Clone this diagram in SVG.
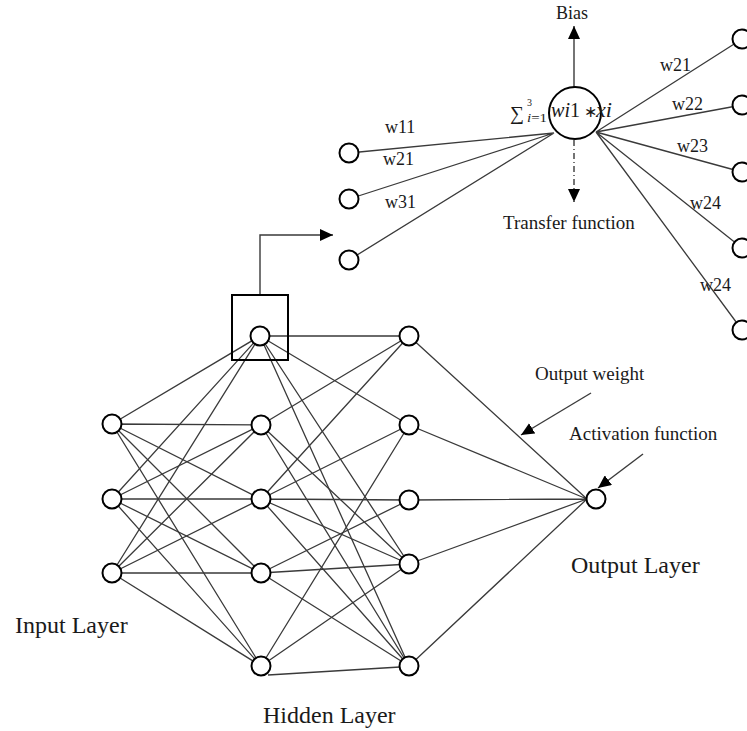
<svg xmlns="http://www.w3.org/2000/svg" width="747" height="731" viewBox="0 0 747 731">
<defs>
<style>
.ln{stroke:#3a3a3a;stroke-width:1.3;fill:none}
.nd{fill:#fff;stroke:#000;stroke-width:2}
.t{font-family:"Liberation Serif","Times New Roman",serif;fill:#1a1a1a}
.s{font-size:18px}
.m{font-size:24px}
.arr{stroke:#3a3a3a;stroke-width:1.4;fill:none}
</style>
<marker id="ah" viewBox="0 0 10 10" refX="10" refY="5" markerWidth="13" markerHeight="12" markerUnits="userSpaceOnUse" orient="auto" preserveAspectRatio="none">
<path d="M0,0 L10,5 L0,10 z" fill="#000"/>
</marker>
</defs>
<rect width="747" height="731" fill="#fff"/>
<g id="connectors">
<!-- input to hidden -->
<path class="ln" d="M112,424L260,336M112,424L261,425M112,424L261,499M112,424L261,573M112,424L261,666"/>
<path class="ln" d="M112,499L260,336M112,499L261,425M112,499L261,499M112,499L261,573M112,499L261,666"/>
<path class="ln" d="M112,573L260,336M112,573L261,425M112,573L261,499M112,573L261,573M112,573L261,666"/>
<!-- hidden to second hidden -->
<path class="ln" d="M260,336L409,336M260,336L409,425M260,336L409,564M260,336L409,666"/>
<path class="ln" d="M261,425L409,336M261,425L409,564M261,425L409,666"/>
<path class="ln" d="M261,499L409,336M261,499L409,425M261,499L409,500M261,499L409,564M261,499L409,666"/>
<path class="ln" d="M261,573L409,500M261,573L409,564M261,573L409,666"/>
<path class="ln" d="M261,666L409,425M261,666L409,564M268,675L400,667"/>
<!-- to output -->
<path class="ln" d="M409,336L587,499M409,425L587,499M409,500L587,499M409,564L587,499M409,666L587,499"/>
<!-- detail inputs -->
<path class="ln" d="M349,153L554,133M349,199L554,133M349,260L554,133"/>
<path class="ln" d="M596,132L742,39M596,132L742,105M596,132L742,172M596,132L742,248M596,132L742,330"/>
<!-- box arrow -->
<path class="arr" d="M260,295V235H333" marker-end="url(#ah)"/>
<!-- bias -->
<line class="arr" x1="574" y1="87" x2="574" y2="26" marker-end="url(#ah)"/>
<!-- transfer -->
<line class="arr" x1="574" y1="140" x2="574" y2="202" stroke-dasharray="6 3 1 3" marker-end="url(#ah)"/>
<!-- output weight -->
<line class="arr" x1="591" y1="393" x2="521" y2="435" marker-end="url(#ah)"/>
<!-- activation -->
<line class="arr" x1="643" y1="454" x2="598" y2="488" marker-end="url(#ah)"/>
</g>
<g id="box"><rect x="232" y="295" width="56" height="65" fill="none" stroke="#000" stroke-width="2"/></g>
<g id="input-layer">
<circle class="nd" cx="112" cy="424" r="9.5"/>
<circle class="nd" cx="112" cy="499" r="9.5"/>
<circle class="nd" cx="112" cy="573" r="9.5"/>
</g>
<g id="hidden-layer-1">
<circle class="nd" cx="260" cy="336" r="9.5"/>
<circle class="nd" cx="261" cy="425" r="9.5"/>
<circle class="nd" cx="261" cy="499" r="9.5"/>
<circle class="nd" cx="261" cy="573" r="9.5"/>
<circle class="nd" cx="261" cy="666" r="9.5"/>
</g>
<g id="hidden-layer-2">
<circle class="nd" cx="409" cy="336" r="9.5"/>
<circle class="nd" cx="409" cy="425" r="9.5"/>
<circle class="nd" cx="409" cy="500" r="9.5"/>
<circle class="nd" cx="409" cy="564" r="9.5"/>
<circle class="nd" cx="409" cy="666" r="9.5"/>
</g>
<g id="output-node"><circle class="nd" cx="596" cy="499" r="9.5"/></g>
<g id="detail-inputs">
<circle class="nd" cx="349" cy="153" r="9.5"/>
<circle class="nd" cx="349" cy="199" r="9.5"/>
<circle class="nd" cx="349" cy="260" r="9.5"/>
</g>
<g id="detail-outputs">
<circle class="nd" cx="742" cy="39" r="9.5"/>
<circle class="nd" cx="742" cy="105" r="9.5"/>
<circle class="nd" cx="742" cy="172" r="9.5"/>
<circle class="nd" cx="742" cy="248" r="9.5"/>
<circle class="nd" cx="742" cy="330" r="9.5"/>
</g>
<g id="neuron">
<circle class="nd" cx="575" cy="113" r="26"/>
<text class="t" x="510" y="120" font-size="20" textLength="14" lengthAdjust="spacingAndGlyphs">∑</text>
<text class="t" x="527" y="106" font-size="10">3</text>
<text class="t" x="527" y="122" font-size="12" textLength="20" lengthAdjust="spacingAndGlyphs"><tspan font-style="italic">i</tspan>=1</text>
<text class="t" x="551" y="117" font-size="21" textLength="29" lengthAdjust="spacingAndGlyphs"><tspan font-style="italic">wi</tspan>1</text>
<text class="t" x="584" y="117" font-size="16" fill="#777">∗</text>
<text class="t" x="596" y="117" font-size="21" font-style="italic" textLength="16" lengthAdjust="spacingAndGlyphs">xi</text>
</g>
<g id="labels">
<text class="t s" x="572" y="19" text-anchor="middle">Bias</text>
<text class="t" x="503" y="229" font-size="19">Transfer function</text>
<text class="t s" x="385" y="133">w11</text>
<text class="t s" x="383" y="165">w21</text>
<text class="t s" x="385" y="208">w31</text>
<text class="t s" x="660" y="71">w21</text>
<text class="t s" x="672" y="110">w22</text>
<text class="t s" x="677" y="152">w23</text>
<text class="t s" x="690" y="209">w24</text>
<text class="t s" x="700" y="291">w24</text>
<text class="t" x="535" y="380" font-size="19">Output weight</text>
<text class="t" x="569" y="440" font-size="19">Activation function</text>
<text class="t m" x="15" y="633">Input Layer</text>
<text class="t m" x="263" y="723">Hidden Layer</text>
<text class="t m" x="571" y="573">Output Layer</text>
</g>
</svg>
